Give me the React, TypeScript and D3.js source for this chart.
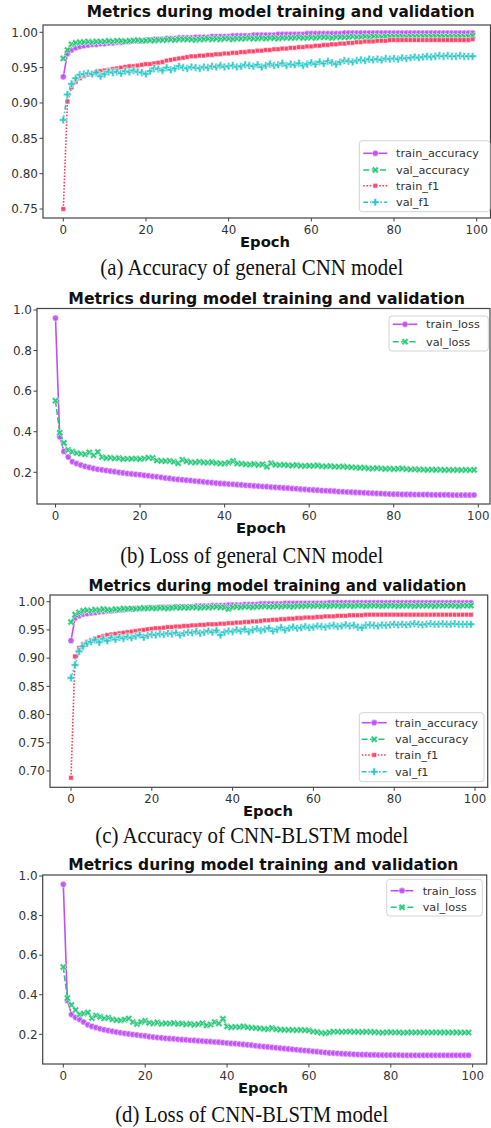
import React from "react";
import * as d3 from "d3";

// epochs on the x axis
const epochs = d3.range(0, 100);

// ---- (a) general CNN, accuracy ----
const aTrainAcc = [
  0.937, 0.970, 0.975, 0.978, 0.980, 0.981, 0.982, 0.983, 0.983, 0.984,
  0.984, 0.985, 0.985, 0.986, 0.986, 0.987, 0.987, 0.988, 0.988, 0.988,
  0.989, 0.989, 0.990, 0.990, 0.990, 0.991, 0.991, 0.991, 0.992, 0.992,
  0.992, 0.992, 0.993, 0.993, 0.993, 0.993, 0.994, 0.994, 0.994, 0.994,
  0.994, 0.995, 0.995, 0.995, 0.995, 0.995, 0.996, 0.996, 0.996, 0.996,
  0.996, 0.996, 0.997, 0.997, 0.997, 0.997, 0.997, 0.997, 0.997, 0.998,
  0.998, 0.998, 0.998, 0.998, 0.998, 0.998, 0.998, 0.998, 0.999, 0.999,
  0.999, 0.999, 0.999, 0.999, 0.999, 0.999, 0.999, 0.999, 0.999, 0.999,
  0.999, 0.999, 0.999, 0.999, 0.999, 0.999, 0.999, 0.999, 0.999, 0.999,
  0.999, 0.999, 0.999, 0.999, 0.999, 0.999, 0.999, 0.999, 0.999, 0.999,
];
const aValAcc = [
  0.963, 0.975, 0.983, 0.985, 0.986, 0.986, 0.987, 0.986, 0.987, 0.987,
  0.987, 0.988, 0.987, 0.988, 0.988, 0.987, 0.988, 0.988, 0.989, 0.988,
  0.988, 0.989, 0.988, 0.989, 0.989, 0.989, 0.990, 0.989, 0.990, 0.990,
  0.990, 0.990, 0.989, 0.990, 0.990, 0.991, 0.990, 0.991, 0.990, 0.991,
  0.991, 0.990, 0.991, 0.991, 0.991, 0.992, 0.991, 0.991, 0.992, 0.991,
  0.992, 0.992, 0.991, 0.992, 0.992, 0.992, 0.992, 0.993, 0.992, 0.992,
  0.993, 0.992, 0.993, 0.993, 0.993, 0.992, 0.993, 0.993, 0.993, 0.993,
  0.994, 0.993, 0.993, 0.994, 0.993, 0.994, 0.994, 0.993, 0.994, 0.994,
  0.994, 0.994, 0.994, 0.993, 0.994, 0.994, 0.994, 0.994, 0.994, 0.994,
  0.994, 0.994, 0.994, 0.994, 0.994, 0.994, 0.994, 0.994, 0.994, 0.995,
];
const aTrainF1 = [
  0.750, 0.902, 0.922, 0.930, 0.935, 0.938, 0.940, 0.942, 0.944, 0.945,
  0.946, 0.947, 0.948, 0.949, 0.950, 0.951, 0.952, 0.952, 0.953, 0.954,
  0.955, 0.955, 0.956, 0.957, 0.958, 0.960, 0.961, 0.962, 0.963, 0.964,
  0.965, 0.966, 0.966, 0.967, 0.967, 0.968, 0.968, 0.969, 0.969, 0.970,
  0.970, 0.971, 0.971, 0.972, 0.972, 0.973, 0.973, 0.974, 0.974, 0.975,
  0.975, 0.976, 0.976, 0.977, 0.977, 0.978, 0.978, 0.979, 0.979, 0.980,
  0.980, 0.981, 0.981, 0.982, 0.982, 0.983, 0.983, 0.984, 0.984, 0.985,
  0.985, 0.986, 0.986, 0.987, 0.987, 0.987, 0.988, 0.988, 0.988, 0.989,
  0.989, 0.989, 0.989, 0.989, 0.989, 0.989, 0.989, 0.989, 0.989, 0.989,
  0.989, 0.989, 0.989, 0.989, 0.989, 0.989, 0.989, 0.989, 0.989, 0.990,
];
const aValF1 = [
  0.876, 0.912, 0.927, 0.935, 0.940, 0.941, 0.942, 0.941, 0.943, 0.938,
  0.941, 0.944, 0.943, 0.944, 0.942, 0.945, 0.944, 0.946, 0.944, 0.943,
  0.941, 0.945, 0.949, 0.948, 0.946, 0.950, 0.947, 0.949, 0.952, 0.950,
  0.949, 0.951, 0.950, 0.949, 0.951, 0.950, 0.952, 0.951, 0.953, 0.951,
  0.952, 0.953, 0.951, 0.952, 0.954, 0.953, 0.952, 0.954, 0.951, 0.953,
  0.955, 0.953, 0.954, 0.956, 0.953, 0.955, 0.954, 0.956, 0.953, 0.955,
  0.957, 0.955, 0.958, 0.956, 0.959, 0.957, 0.955, 0.958, 0.960, 0.959,
  0.958, 0.960, 0.961, 0.960, 0.962, 0.961, 0.962, 0.961, 0.963, 0.962,
  0.963, 0.962, 0.964, 0.963, 0.964, 0.965, 0.964, 0.965, 0.966, 0.965,
  0.966, 0.967, 0.966, 0.967, 0.966, 0.966, 0.967, 0.966, 0.966, 0.966,
];

// ---- (b) general CNN, loss ----
const bTrainLoss = [
  0.960, 0.375, 0.303, 0.275, 0.252, 0.243, 0.236, 0.229, 0.224, 0.219,
  0.215, 0.212, 0.209, 0.206, 0.203, 0.200, 0.197, 0.194, 0.192, 0.190,
  0.188, 0.185, 0.183, 0.180, 0.178, 0.175, 0.172, 0.170, 0.167, 0.165,
  0.163, 0.161, 0.159, 0.157, 0.155, 0.153, 0.151, 0.149, 0.147, 0.145,
  0.144, 0.142, 0.141, 0.139, 0.138, 0.136, 0.135, 0.133, 0.132, 0.130,
  0.129, 0.127, 0.126, 0.125, 0.123, 0.122, 0.120, 0.119, 0.117, 0.116,
  0.114, 0.113, 0.112, 0.110, 0.109, 0.108, 0.107, 0.105, 0.104, 0.103,
  0.102, 0.101, 0.100, 0.099, 0.098, 0.097, 0.096, 0.095, 0.094, 0.093,
  0.092, 0.092, 0.091, 0.091, 0.091, 0.090, 0.090, 0.090, 0.090, 0.089,
  0.089, 0.089, 0.089, 0.089, 0.088, 0.088, 0.088, 0.088, 0.088, 0.088,
];
const bValLoss = [
  0.553, 0.395, 0.345, 0.310, 0.302, 0.295, 0.292, 0.289, 0.298, 0.284,
  0.300, 0.275, 0.270, 0.272, 0.268, 0.270, 0.265, 0.267, 0.266, 0.268,
  0.265, 0.268, 0.272, 0.270, 0.258, 0.256, 0.255, 0.257, 0.252, 0.245,
  0.262, 0.255, 0.250, 0.248, 0.252, 0.249, 0.247, 0.250, 0.246, 0.244,
  0.243, 0.248, 0.255, 0.244, 0.242, 0.240, 0.238, 0.241, 0.236, 0.239,
  0.228, 0.245, 0.238, 0.236, 0.237, 0.235, 0.233, 0.236, 0.232, 0.231,
  0.233, 0.231, 0.234, 0.230, 0.229, 0.231, 0.228, 0.227, 0.229, 0.226,
  0.225, 0.224, 0.222, 0.223, 0.220, 0.218, 0.221, 0.219, 0.217, 0.218,
  0.216, 0.217, 0.219, 0.216, 0.214, 0.215, 0.213, 0.214, 0.212, 0.213,
  0.212, 0.213, 0.211, 0.212, 0.211, 0.212, 0.211, 0.212, 0.211, 0.212,
];

// ---- (c) CNN-BLSTM, accuracy ----
const cTrainAcc = [
  0.931, 0.971, 0.975, 0.978, 0.979, 0.980, 0.981, 0.982, 0.983, 0.984,
  0.984, 0.985, 0.986, 0.986, 0.987, 0.987, 0.988, 0.988, 0.988, 0.989,
  0.989, 0.989, 0.990, 0.990, 0.990, 0.990, 0.991, 0.991, 0.991, 0.991,
  0.991, 0.992, 0.992, 0.992, 0.992, 0.993, 0.993, 0.993, 0.993, 0.994,
  0.994, 0.994, 0.994, 0.995, 0.995, 0.995, 0.995, 0.996, 0.996, 0.996,
  0.996, 0.996, 0.996, 0.997, 0.997, 0.997, 0.997, 0.997, 0.997, 0.997,
  0.997, 0.997, 0.997, 0.997, 0.998, 0.998, 0.998, 0.998, 0.998, 0.998,
  0.998, 0.998, 0.998, 0.998, 0.998, 0.998, 0.998, 0.998, 0.998, 0.998,
  0.998, 0.998, 0.998, 0.998, 0.998, 0.998, 0.998, 0.998, 0.998, 0.998,
  0.998, 0.998, 0.998, 0.998, 0.998, 0.998, 0.998, 0.998, 0.998, 0.998,
];
const cValAcc = [
  0.964, 0.977, 0.981, 0.984, 0.985, 0.984, 0.986, 0.985, 0.987, 0.986,
  0.985, 0.987, 0.986, 0.988, 0.987, 0.988, 0.987, 0.988, 0.989, 0.988,
  0.989, 0.988, 0.989, 0.989, 0.988, 0.989, 0.990, 0.989, 0.990, 0.989,
  0.990, 0.990, 0.989, 0.990, 0.990, 0.990, 0.991, 0.990, 0.990, 0.987,
  0.990, 0.991, 0.990, 0.991, 0.991, 0.990, 0.991, 0.991, 0.992, 0.991,
  0.991, 0.992, 0.991, 0.992, 0.992, 0.991, 0.992, 0.992, 0.992, 0.993,
  0.992, 0.993, 0.992, 0.993, 0.992, 0.993, 0.993, 0.992, 0.993, 0.993,
  0.992, 0.993, 0.993, 0.992, 0.993, 0.993, 0.993, 0.992, 0.993, 0.993,
  0.993, 0.992, 0.993, 0.993, 0.993, 0.992, 0.993, 0.993, 0.993, 0.993,
  0.992, 0.993, 0.993, 0.993, 0.993, 0.993, 0.992, 0.993, 0.993, 0.993,
];
const cTrainF1 = [
  0.688, 0.903, 0.918, 0.925, 0.929, 0.932, 0.935, 0.937, 0.939, 0.941,
  0.942, 0.943, 0.944, 0.945, 0.946, 0.947, 0.948, 0.949, 0.950, 0.951,
  0.952, 0.953, 0.953, 0.954, 0.955, 0.955, 0.956, 0.956, 0.957, 0.957,
  0.958, 0.958, 0.959, 0.959, 0.960, 0.960, 0.960, 0.961, 0.961, 0.962,
  0.962, 0.963, 0.963, 0.964, 0.964, 0.965, 0.965, 0.966, 0.967, 0.967,
  0.968, 0.968, 0.969, 0.969, 0.970, 0.970, 0.971, 0.971, 0.972, 0.972,
  0.972, 0.973, 0.973, 0.974, 0.974, 0.974, 0.975, 0.975, 0.975, 0.976,
  0.976, 0.976, 0.976, 0.977, 0.977, 0.977, 0.977, 0.977, 0.977, 0.977,
  0.977, 0.977, 0.977, 0.977, 0.977, 0.977, 0.977, 0.977, 0.977, 0.977,
  0.977, 0.977, 0.977, 0.977, 0.977, 0.977, 0.977, 0.977, 0.977, 0.977,
];
const cValF1 = [
  0.865, 0.888, 0.912, 0.921, 0.926, 0.929, 0.932, 0.928, 0.934, 0.931,
  0.936, 0.933, 0.937, 0.935, 0.938, 0.936, 0.939, 0.941, 0.937, 0.940,
  0.942, 0.941, 0.943, 0.942, 0.944, 0.943, 0.945, 0.941, 0.944, 0.946,
  0.945, 0.947, 0.944, 0.946, 0.948, 0.946, 0.949, 0.941, 0.946, 0.948,
  0.947, 0.950, 0.948, 0.951, 0.947, 0.950, 0.952, 0.949, 0.951, 0.953,
  0.948, 0.951, 0.954, 0.950, 0.953, 0.955, 0.953, 0.954, 0.956, 0.954,
  0.955, 0.957, 0.956, 0.955, 0.957, 0.958, 0.956, 0.957, 0.959, 0.957,
  0.958, 0.955, 0.954, 0.958, 0.959, 0.958, 0.957, 0.959, 0.958, 0.959,
  0.960, 0.959, 0.960, 0.959, 0.960, 0.961, 0.960, 0.959, 0.960, 0.961,
  0.960, 0.960, 0.961, 0.960, 0.960, 0.961, 0.960, 0.960, 0.960, 0.960,
];

// ---- (d) CNN-BLSTM, loss ----
const dTrainLoss = [
  0.958, 0.370, 0.300, 0.285, 0.275, 0.262, 0.248, 0.240, 0.234, 0.228,
  0.223, 0.219, 0.215, 0.211, 0.208, 0.205, 0.202, 0.199, 0.197, 0.194,
  0.192, 0.188, 0.186, 0.184, 0.182, 0.180, 0.178, 0.177, 0.175, 0.173,
  0.172, 0.170, 0.169, 0.167, 0.166, 0.164, 0.163, 0.161, 0.160, 0.158,
  0.156, 0.154, 0.153, 0.151, 0.149, 0.147, 0.145, 0.142, 0.140, 0.138,
  0.136, 0.134, 0.132, 0.130, 0.128, 0.126, 0.124, 0.122, 0.120, 0.118,
  0.116, 0.114, 0.112, 0.110, 0.108, 0.106, 0.105, 0.104, 0.102, 0.101,
  0.100, 0.099, 0.098, 0.097, 0.097, 0.096, 0.096, 0.095, 0.095, 0.095,
  0.095, 0.095, 0.095, 0.094, 0.094, 0.094, 0.094, 0.094, 0.094, 0.094,
  0.094, 0.094, 0.094, 0.094, 0.094, 0.094, 0.094, 0.094, 0.094, 0.094,
];
const dValLoss = [
  0.540, 0.383, 0.348, 0.323, 0.300, 0.305, 0.310, 0.282, 0.295, 0.288,
  0.280, 0.284, 0.276, 0.272, 0.270, 0.274, 0.280, 0.262, 0.252, 0.262,
  0.268, 0.258, 0.255, 0.260, 0.252, 0.256, 0.254, 0.257, 0.252, 0.255,
  0.250, 0.253, 0.248, 0.251, 0.256, 0.245, 0.250, 0.262, 0.255, 0.278,
  0.240, 0.235, 0.238, 0.236, 0.240, 0.236, 0.233, 0.232, 0.230, 0.228,
  0.226, 0.232, 0.226, 0.224, 0.223, 0.222, 0.222, 0.221, 0.222, 0.221,
  0.220, 0.214, 0.212, 0.208, 0.205, 0.209, 0.214, 0.213, 0.212, 0.213,
  0.214, 0.212, 0.213, 0.211, 0.213, 0.212, 0.211, 0.210, 0.208, 0.210,
  0.211, 0.209, 0.210, 0.208, 0.209, 0.210, 0.209, 0.210, 0.209, 0.210,
  0.209, 0.210, 0.209, 0.210, 0.209, 0.209, 0.210, 0.209, 0.209, 0.209,
];

// tick labels
const xTicks = [0, 20, 40, 60, 80, 100];
const accTicksA = [0.75, 0.8, 0.85, 0.9, 0.95, 1.0];
const accTicksC = [0.7, 0.75, 0.8, 0.85, 0.9, 0.95, 1.0];
const lossTicks = [0.2, 0.4, 0.6, 0.8, 1.0];

const accNames = ["train_accuracy", "val_accuracy", "train_f1", "val_f1"];
const lossNames = ["train_loss", "val_loss"];

const title = "Metrics during model training and validation";
const captions = [
  "(a) Accuracy of general CNN model",
  "(b) Loss of general CNN model",
  "(c) Accuracy of CNN-BLSTM model",
  "(d) Loss of CNN-BLSTM model",
];

// seaborn-ish styles: colour, dash pattern, marker
const STYLES = [
  { color: "#c04ef6", dash: "", marker: "circle" },
  { color: "#24c977", dash: "6,2.4", marker: "x" },
  { color: "#ff3a62", dash: "1.6,1.6", marker: "square" },
  { color: "#25c6c6", dash: "4.8,2,1.6,2", marker: "plus" },
];

const symCircle = d3.symbol().type(d3.symbolCircle).size(30)();
const symSquare = d3.symbol().type(d3.symbolSquare).size(22)();
const symCross = d3.symbol().type(d3.symbolCross).size(32)();

function Marker({ kind, color, x, y }) {
  const common = { fill: color, fillOpacity: 0.9, stroke: "#fff", strokeWidth: 0.5 };
  if (kind === "circle") return <path d={symCircle} transform={`translate(${x},${y})`} {...common} />;
  if (kind === "square") return <path d={symSquare} transform={`translate(${x},${y})`} {...common} />;
  if (kind === "plus") return <path d={symCross} transform={`translate(${x},${y})`} {...common} />;
  return <path d={symCross} transform={`translate(${x},${y}) rotate(45)`} {...common} />;
}

const TXT = "#333";
const SANS = "DejaVu Sans, Verdana, sans-serif";

function Panel({ cfg }) {
  const x = d3.scaleLinear().domain([0, 100]).range([cfg.x0, cfg.x100]);
  const y = d3.scaleLinear().domain([cfg.yLo, cfg.yHi]).range([cfg.pyLo, cfg.pyHi]);
  const line = d3.line<number>().x((d, i) => x(epochs[i])).y((d) => y(d));
  const f = cfg.frame;
  const fmt = d3.format(cfg.yFmt);
  const lg = cfg.legend;

  return (
    <g>
      <text x={cfg.titleX} y={cfg.titleY} textAnchor="middle" fontFamily={SANS} fontWeight="bold"
        fontSize={15} textLength={cfg.titleW} lengthAdjust="spacingAndGlyphs" fill="#111">{title}</text>

      {cfg.series.map((s, k) => {
        const st = STYLES[k];
        return (
          <g key={k}>
            <path d={line(s) || ""} fill="none" stroke={st.color} strokeWidth={1.6}
              strokeDasharray={st.dash || undefined} />
            {s.map((v, i) => (
              <Marker key={i} kind={st.marker} color={st.color} x={x(epochs[i])} y={y(v)} />
            ))}
          </g>
        );
      })}

      <rect x={f.l} y={f.t} width={f.r - f.l} height={f.b - f.t} fill="none" stroke="#444" strokeWidth={1.2} />

      {cfg.yTicks.map((t) => (
        <g key={t}>
          <line x1={f.l - 3.5} x2={f.l} y1={y(t)} y2={y(t)} stroke="#444" strokeWidth={1} />
          <text x={f.l - 5} y={y(t)} dy="0.36em" textAnchor="end" fontFamily={SANS} fontSize={12} fill={TXT}>{fmt(t)}</text>
        </g>
      ))}
      {xTicks.map((t) => (
        <g key={t}>
          <line x1={x(t)} x2={x(t)} y1={f.b} y2={f.b + 3.5} stroke="#444" strokeWidth={1} />
          <text x={x(t)} y={f.b + 15.5} textAnchor="middle" fontFamily={SANS} fontSize={11.8} fill={TXT}>{t}</text>
        </g>
      ))}

      <text x={cfg.epochX} y={cfg.epochY} textAnchor="middle" fontFamily={SANS} fontWeight="bold"
        fontSize={14.5} textLength={50} lengthAdjust="spacingAndGlyphs" fill="#111">Epoch</text>

      <rect x={lg.l} y={lg.t} width={lg.r - lg.l} height={lg.b - lg.t} rx={3} fill="#fff" fillOpacity={0.85}
        stroke="#d4d4d4" strokeWidth={1} />
      {cfg.names.map((n, k) => {
        const st = STYLES[k];
        const yy = lg.rows[k];
        return (
          <g key={n}>
            <line x1={lg.h0} x2={lg.h1} y1={yy} y2={yy} stroke={st.color} strokeWidth={1.6}
              strokeDasharray={st.dash || undefined} />
            <Marker kind={st.marker} color={st.color} x={(lg.h0 + lg.h1) / 2} y={yy} />
            <text x={lg.tx} y={yy} dy="0.36em" fontFamily={SANS} fontSize={11.3} fill={TXT}>{n}</text>
          </g>
        );
      })}

      <text x={251.7} y={cfg.capY} textAnchor="middle" fontFamily="Liberation Serif, Times New Roman, serif"
        fontSize={23} textLength={cfg.capW} lengthAdjust="spacingAndGlyphs" fill="#111">{cfg.caption}</text>
    </g>
  );
}

const panels = [
  {
    series: [aTrainAcc, aValAcc, aTrainF1, aValF1], names: accNames, caption: captions[0],
    x0: 63.3, x100: 476.7, yLo: 0.75, yHi: 1.0, pyLo: 209, pyHi: 32.3, yTicks: accTicksA, yFmt: ".2f",
    frame: { l: 43, r: 490.5, t: 25, b: 218 },
    titleX: 280.8, titleY: 16.5, titleW: 388, epochX: 265, epochY: 246.5, capY: 275, capW: 303,
    legend: { l: 359.3, r: 490, t: 140.7, b: 211.7, rows: [153.3, 170, 185.7, 202.3], h0: 363.3, h1: 387.3, tx: 396 },
  },
  {
    series: [bTrainLoss, bValLoss], names: lossNames, caption: captions[1],
    x0: 55.5, x100: 478.3, yLo: 0.2, yHi: 1.0, pyLo: 472.3, pyHi: 310, yTicks: lossTicks, yFmt: ".1f",
    frame: { l: 37, r: 490, t: 308.5, b: 504 },
    titleX: 266.7, titleY: 304, titleW: 396.7, epochX: 261, epochY: 533.3, capY: 563, capW: 263,
    legend: { l: 389, r: 488.3, t: 316, b: 351, rows: [324.3, 341.7], h0: 392.7, h1: 417.3, tx: 426 },
  },
  {
    series: [cTrainAcc, cValAcc, cTrainF1, cValF1], names: accNames, caption: captions[2],
    x0: 71, x100: 475, yLo: 0.7, yHi: 1.0, pyLo: 771, pyHi: 601.7, yTicks: accTicksC, yFmt: ".2f",
    frame: { l: 50, r: 487.7, t: 595, b: 787.3 },
    titleX: 277.5, titleY: 591, titleW: 378, epochX: 268, epochY: 816, capY: 843, capW: 313,
    legend: { l: 359.3, r: 484, t: 712.7, b: 781.7, rows: [722.7, 739.3, 755, 771.7], h0: 361.7, h1: 386.7, tx: 395 },
  },
  {
    series: [dTrainLoss, dValLoss], names: lossNames, caption: captions[3],
    x0: 63.3, x100: 472.7, yLo: 0.2, yHi: 1.0, pyLo: 1034.3, pyHi: 876, yTicks: lossTicks, yFmt: ".1f",
    frame: { l: 42.7, r: 486.7, t: 875, b: 1064 },
    titleX: 263.3, titleY: 870, titleW: 390, epochX: 263, epochY: 1093.3, capY: 1121.7, capW: 273,
    legend: { l: 386.7, r: 482.3, t: 879.3, b: 916, rows: [890.7, 907.3], h0: 390.7, h1: 413.3, tx: 422.7 },
  },
];

export default function App() {
  return (
    <div style={{ position: "absolute", left: 0, top: 0 }}>
      <svg width={491} height={1128} style={{ display: "block", background: "#fff" }}>
        {panels.map((p, i) => (
          <Panel key={i} cfg={p} />
        ))}
      </svg>
    </div>
  );
}
